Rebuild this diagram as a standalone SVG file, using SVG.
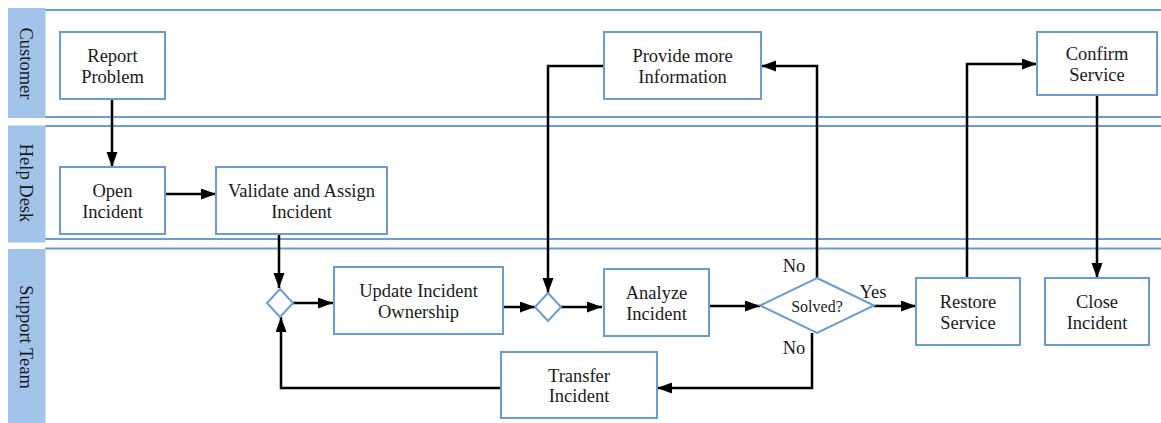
<svg xmlns="http://www.w3.org/2000/svg" width="1161" height="423" viewBox="0 0 1161 423">
<style>
.lane{fill:none;stroke:#6b9bd2;stroke-width:2}
.hdr{fill:#a3c4ea}
.box{fill:#fff;stroke:#6b9bd2;stroke-width:2}
.t{font-family:"Liberation Serif","Times New Roman",serif;font-size:18.5px;fill:#1a1a1a;text-anchor:middle}
.s{font-size:16px}
.c{fill:none;stroke:#000;stroke-width:2.5;marker-end:url(#ah)}
</style>
<defs>
<marker id="ah" markerUnits="userSpaceOnUse" markerWidth="16" markerHeight="12" refX="15" refY="5.5" orient="auto">
<path d="M0,0 L15,5.5 L0,11 z" fill="#000"/>
</marker>
</defs>
<g id="lanes">
<line class="lane" x1="45" y1="10" x2="1161" y2="10"/>
<line class="lane" x1="45" y1="117" x2="1161" y2="117"/>
<line class="lane" x1="45" y1="126" x2="1161" y2="126"/>
<line class="lane" x1="45" y1="239" x2="1161" y2="239"/>
<line class="lane" x1="45" y1="248.5" x2="1161" y2="248.5"/>
<rect class="hdr" x="8" y="8" width="37.5" height="110"/>
<rect class="hdr" x="8" y="125.5" width="37.5" height="117"/>
<rect class="hdr" x="8" y="249" width="37.5" height="174"/>
<text class="t" transform="translate(20,63.5) rotate(90)">Customer</text>
<text class="t" transform="translate(20,183) rotate(90)">Help Desk</text>
<text class="t" transform="translate(20,337) rotate(90)">Support Team</text>
</g>
<g id="connectors">
<path class="c" d="M112,99 V167"/>
<path class="c" d="M165,194 H216"/>
<path class="c" d="M279,234 V288"/>
<path class="c" d="M293,303 H333"/>
<path class="c" d="M503,307 H535"/>
<path class="c" d="M561,307 H602"/>
<path class="c" d="M709,306 H760"/>
<path class="c" d="M817,278 V66 H761"/>
<path class="c" d="M604,66 H548 V293"/>
<path class="c" d="M812,333 V388 H657"/>
<path class="c" d="M501,388 H281 V317"/>
<path class="c" d="M874,306 H916"/>
<path class="c" d="M967,278 V64 H1037"/>
<path class="c" d="M1097,95 V278"/>
<text class="t" x="794" y="272">No</text>
<text class="t" x="794" y="354">No</text>
<text class="t" x="873" y="298">Yes</text>
</g>
<g id="report-problem">
<rect class="box" x="60" y="32" width="105" height="67"/>
<text class="t" x="112.5" y="62">Report</text>
<text class="t" x="112.5" y="83">Problem</text>
</g>
<g id="open-incident">
<rect class="box" x="60" y="167" width="105" height="67"/>
<text class="t" x="112.5" y="197">Open</text>
<text class="t" x="112.5" y="218">Incident</text>
</g>
<g id="validate-assign">
<rect class="box" x="216" y="167" width="171" height="67"/>
<text class="t" x="301.5" y="197">Validate and Assign</text>
<text class="t" x="301.5" y="218">Incident</text>
</g>
<g id="gateway1">
<path class="box" d="M280,289 L293,303 L280,317 L267,303 z"/>
</g>
<g id="update-ownership">
<rect class="box" x="334" y="267" width="169" height="67"/>
<text class="t" x="418.5" y="297">Update Incident</text>
<text class="t" x="418.5" y="318">Ownership</text>
</g>
<g id="gateway2">
<path class="box" d="M548,293 L561,307 L548,321 L535,307 z"/>
</g>
<g id="analyze-incident">
<rect class="box" x="604" y="269" width="105" height="67"/>
<text class="t" x="656.5" y="299">Analyze</text>
<text class="t" x="656.5" y="320">Incident</text>
</g>
<g id="solved">
<path class="box" d="M817,278 L874,305.5 L817,333 L760,305.5 z"/>
<text class="t s" x="817" y="312">Solved?</text>
</g>
<g id="provide-info">
<rect class="box" x="604" y="32" width="157" height="67"/>
<text class="t" x="682.5" y="62">Provide more</text>
<text class="t" x="682.5" y="83">Information</text>
</g>
<g id="transfer-incident">
<rect class="box" x="501" y="352" width="156" height="66"/>
<text class="t" x="579" y="382">Transfer</text>
<text class="t" x="579" y="402">Incident</text>
</g>
<g id="restore-service">
<rect class="box" x="916" y="278" width="104" height="67"/>
<text class="t" x="968" y="308">Restore</text>
<text class="t" x="968" y="329">Service</text>
</g>
<g id="confirm-service">
<rect class="box" x="1037" y="32" width="120" height="63"/>
<text class="t" x="1097" y="60">Confirm</text>
<text class="t" x="1097" y="81">Service</text>
</g>
<g id="close-incident">
<rect class="box" x="1045" y="278" width="104" height="67"/>
<text class="t" x="1097" y="308">Close</text>
<text class="t" x="1097" y="329">Incident</text>
</g>
</svg>
